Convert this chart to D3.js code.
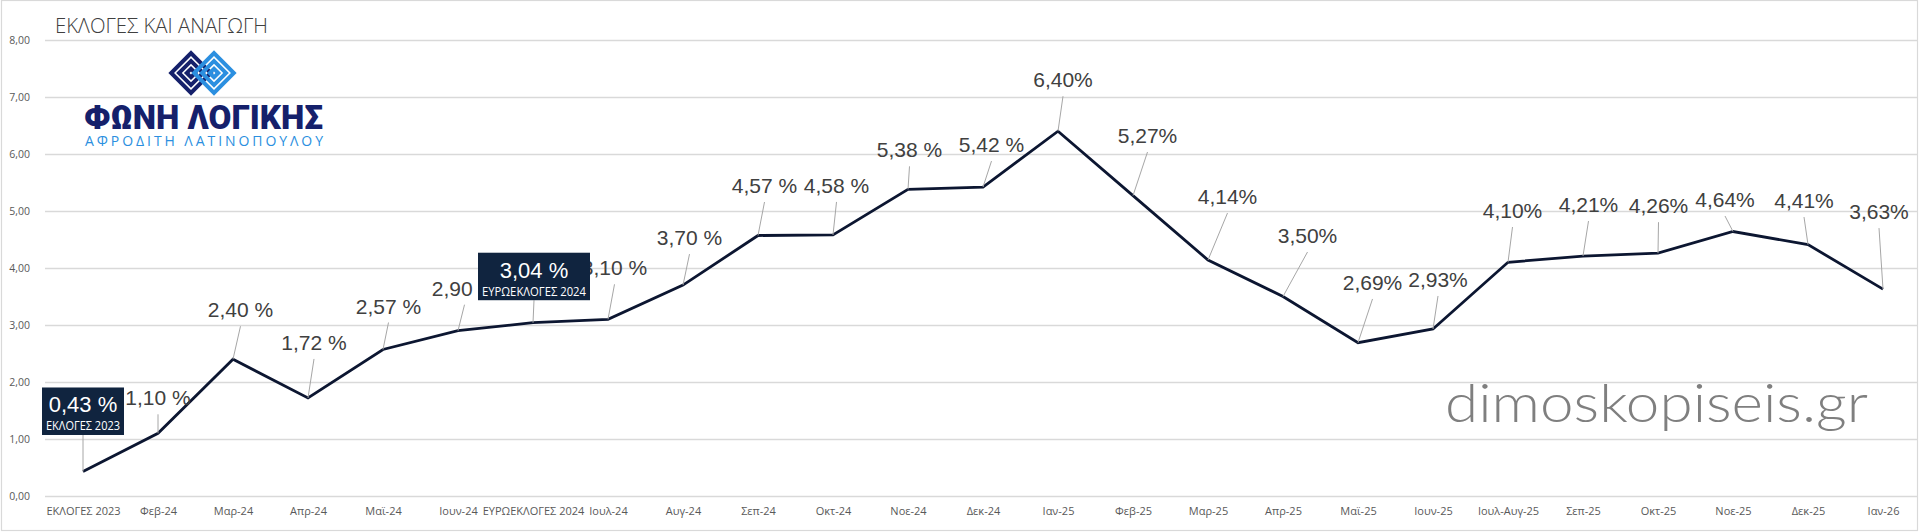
<!DOCTYPE html>
<html>
<head>
<meta charset="utf-8">
<script src="https://cdn.jsdelivr.net/npm/d3@7"></script>
<style>
  html, body { margin: 0; padding: 0; background: #fff; }
  svg { display: block; }
</style>
</head>
<body>
<svg id="chart" width="1920" height="532"></svg>
<script>
// ---------- DATA ----------
const categories = ["ΕΚΛΟΓΕΣ 2023", "Φεβ-24", "Μαρ-24", "Απρ-24", "Μαϊ-24", "Ιουν-24",
  "ΕΥΡΩΕΚΛΟΓΕΣ 2024", "Ιουλ-24", "Αυγ-24", "Σεπ-24", "Οκτ-24", "Νοε-24", "Δεκ-24",
  "Ιαν-25", "Φεβ-25", "Μαρ-25", "Απρ-25", "Μαϊ-25", "Ιουν-25", "Ιουλ-Αυγ-25",
  "Σεπ-25", "Οκτ-25", "Νοε-25", "Δεκ-25", "Ιαν-26"];
const values = [0.43, 1.10, 2.40, 1.72, 2.57, 2.90, 3.04, 3.10, 3.70, 4.57, 4.58, 5.38, 5.42,
  6.40, 5.27, 4.14, 3.50, 2.69, 2.93, 4.10, 4.21, 4.26, 4.64, 4.41, 3.63];
const yTicks = [0, 1, 2, 3, 4, 5, 6, 7, 8];
const highlightIdx = [0, 6];
const highlightNotes = ["ΕΚΛΟΓΕΣ 2023", "ΕΥΡΩΕΚΛΟΓΕΣ 2024"];
const spacedPercentUntil = 13; // labels before this index are written "x,xx %"
const titleText = "ΕΚΛΟΓΕΣ ΚΑΙ ΑΝΑΓΩΓΗ";

// ---------- LAYOUT (label offsets relative to point: centre-x, baseline) ----------
const labelOffsets = [
  [0, -84], [0, -28], [7.5, -42], [6, -48], [5.5, -36], [6.5, -35], [1, -70],
  [6.5, -44], [6.5, -40], [6.5, -42.5], [3.5, -42], [1.5, -32], [8.5, -35],
  [5, -44], [14.5, -52.6], [19.5, -56], [24.5, -53.5], [14.5, -52.7], [5, -42],
  [4.5, -44.3], [5.5, -44], [0.5, -40], [-8, -24.5], [-4, -36.6], [-4, -70]
];

const svg = d3.select("#chart");

const x = d3.scalePoint().domain(categories).range([45.5, 1920.5]).padding(0.5);
const y = d3.scaleLinear().domain([0, 8]).range([496, 40]);
const fmt = v => d3.format(".2f")(v).replace(".", ",");

// frame
svg.append("rect").attr("x", 1.5).attr("y", 0.5).attr("width", 1916).attr("height", 530)
  .attr("fill", "#fff").attr("stroke", "#d9d9d9").attr("stroke-width", 1.2);

// gridlines + y labels
const yAxis = d3.axisLeft(y).tickValues(yTicks).tickSize(0).tickFormat(fmt);
const gY = svg.append("g").attr("transform", "translate(45,0)").call(yAxis);
gY.select(".domain").remove();
gY.selectAll(".tick line").remove();
gY.selectAll(".tick").append("line")
  .attr("x1", 0).attr("x2", 1872).attr("y1", 0).attr("y2", 0)
  .attr("stroke", "#d9d9d9").attr("stroke-width", 1.3);
gY.selectAll(".tick text").attr("x", -15).attr("dy", "0.35em")
  .attr("font-family", "'Open Sans', sans-serif").attr("font-size", 10.5).attr("fill", "#595959");

// x axis labels
const xAxis = d3.axisBottom(x).tickSize(0);
const gX = svg.append("g").attr("transform", "translate(0,496)").call(xAxis);
gX.select(".domain").remove();
gX.selectAll(".tick text").attr("y", 0).attr("dy", 19)
  .attr("font-family", "'Open Sans', sans-serif").attr("font-size", 11).attr("fill", "#595959");

// title
svg.append("text").attr("x", 55).attr("y", 33).text(titleText)
  .attr("font-family", "'Open Sans', sans-serif").attr("font-weight", 300)
  .attr("font-size", 21).attr("fill", "#404040")
  .attr("textLength", 213).attr("lengthAdjust", "spacingAndGlyphs");

// logo
const logo = svg.append("g");
const icon = logo.append("g");
[[191, 73, "#15206b"], [214, 73, "#2b8fe0"]].forEach(([cx, cy, col]) => {
  [28, 17, 6].forEach(s => {
    icon.append("rect").attr("x", cx - s / 2).attr("y", cy - s / 2).attr("width", s).attr("height", s)
      .attr("fill", "none").attr("stroke", col).attr("stroke-width", 4)
      .attr("transform", `rotate(45 ${cx} ${cy})`);
  });
});
logo.append("text").attr("x", 84).attr("y", 129).text("ΦΩΝΗ ΛΟΓΙΚΗΣ")
  .attr("font-family", "Roboto, 'Open Sans', sans-serif").attr("font-weight", 900)
  .attr("font-size", 33).attr("fill", "#15206b")
  .attr("textLength", 239).attr("lengthAdjust", "spacingAndGlyphs");
logo.append("text").attr("x", 85).attr("y", 146).text("ΑΦΡΟΔΙΤΗ ΛΑΤΙΝΟΠΟΥΛΟΥ")
  .attr("font-family", "'Open Sans', sans-serif").attr("font-weight", 400)
  .attr("font-size", 14).attr("fill", "#2b8fe0")
  .attr("textLength", 238).attr("lengthAdjust", "spacing");

// watermark
svg.append("text").attr("x", 1445).attr("y", 422).text("dimoskopiseis.gr")
  .attr("font-family", "Lato, 'Open Sans', sans-serif").attr("font-weight", 300)
  .attr("font-size", 54).attr("fill", "#7f7f7f")
  .attr("textLength", 423).attr("lengthAdjust", "spacingAndGlyphs");

// line
const pts = values.map((v, i) => [x(categories[i]), y(v)]);
svg.append("path").datum(pts)
  .attr("d", d3.line())
  .attr("fill", "none").attr("stroke", "#0c1631").attr("stroke-width", 2.8)
  .attr("stroke-linejoin", "miter");

// leader lines + labels (non-highlighted)
const normal = values.map((v, i) => i).filter(i => !highlightIdx.includes(i));
svg.append("g").selectAll("line").data(normal).join("line")
  .attr("x1", i => pts[i][0] + labelOffsets[i][0]).attr("y1", i => pts[i][1] + labelOffsets[i][1] + 9)
  .attr("x2", i => pts[i][0]).attr("y2", i => pts[i][1])
  .attr("stroke", "#a6a6a6").attr("stroke-width", 1);
svg.append("g").selectAll("text").data(normal).join("text")
  .attr("x", i => pts[i][0] + labelOffsets[i][0]).attr("y", i => pts[i][1] + labelOffsets[i][1])
  .attr("text-anchor", "middle")
  .attr("font-family", "'Liberation Sans', Arial, sans-serif").attr("font-size", 21)
  .attr("fill", "#404040")
  .text(i => fmt(values[i]) + (i < spacedPercentUntil ? " %" : "%"));

// highlighted boxes
const boxW = [82, 112];
highlightIdx.forEach((i, k) => {
  const [px, py] = pts[i];
  const cx = px + labelOffsets[i][0];
  const top = py + labelOffsets[i][1];
  const bh = 47.5;
  svg.append("line").attr("x1", cx).attr("y1", top + bh).attr("x2", px).attr("y2", py)
    .attr("stroke", "#a6a6a6").attr("stroke-width", 1);
  svg.append("rect").attr("x", cx - boxW[k] / 2).attr("y", top).attr("width", boxW[k]).attr("height", bh)
    .attr("fill", "#10243f");
  svg.append("text").attr("x", cx).attr("y", top + 25).attr("text-anchor", "middle")
    .attr("font-family", "'Liberation Sans', Arial, sans-serif").attr("font-size", 22)
    .attr("fill", "#fff").text(fmt(values[i]) + " %");
  svg.append("text").attr("x", cx).attr("y", top + 43).attr("text-anchor", "middle")
    .attr("font-family", "'Open Sans', sans-serif").attr("font-size", 12.5)
    .attr("fill", "#fff").text(highlightNotes[k])
    .attr("textLength", boxW[k] - 8).attr("lengthAdjust", "spacingAndGlyphs");
});
</script>
</body>
</html>
